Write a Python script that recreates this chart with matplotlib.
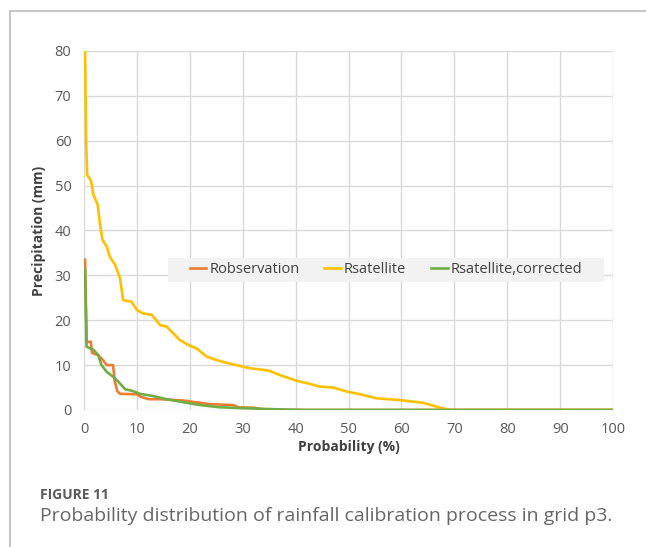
import matplotlib
matplotlib.use('Agg')
import matplotlib.pyplot as plt
from matplotlib.lines import Line2D
from matplotlib.patches import Rectangle

plt.rcParams['font.family'] = ['Open Sans', 'DejaVu Sans']

# exceedance probability (%) vs precipitation (mm)
obs_x = [0.2, 0.5, 1.3, 1.5, 1.8, 2.7, 3.6, 4.3, 5.5, 5.8, 6.3, 6.8, 10.0, 10.6, 12.2, 14.4,
         18.8, 21.9, 23.8, 28.2, 29.2, 32.0, 34.5, 100]
obs_y = [33.5, 15.2, 15.2, 12.8, 12.6, 12.2, 11.1, 10.0, 10.0, 6.5, 4.2, 3.6, 3.5, 3.0, 2.4, 2.4,
         2.1, 1.6, 1.3, 1.1, 0.6, 0.5, 0.0, 0.0]

sat_x = [0.2, 0.4, 0.6, 1.3, 1.8, 2.6, 3.0, 3.5, 4.3, 4.9, 5.9, 6.8, 7.4, 9.0, 10.0, 11.2, 12.8,
         14.4, 15.6, 18.1, 19.7, 21.3, 23.2, 25.1, 27.3, 29.5, 31.4, 34.8, 37.0, 40.2, 42.4,
         44.6, 47.1, 49.7, 52.2, 55.3, 59.7, 64.1, 66.7, 69.2, 100]
sat_y = [81.0, 60.0, 52.3, 51.2, 47.9, 45.7, 41.6, 37.9, 36.4, 34.1, 32.3, 29.4, 24.5, 24.1,
         22.3, 21.5, 21.2, 18.9, 18.6, 15.6, 14.5, 13.7, 11.9, 11.1, 10.4, 9.8, 9.3, 8.8, 7.8,
         6.5, 5.9, 5.2, 5.0, 4.1, 3.5, 2.6, 2.2, 1.6, 0.7, 0.0, 0.0]

cor_x = [0.2, 0.5, 1.8, 2.7, 3.3, 4.3, 5.5, 6.5, 7.8, 9.0, 10.6, 13.1, 15.6, 19.4, 21.9, 25.7,
         30.1, 36.4, 42.0, 100]
cor_y = [31.2, 14.1, 13.4, 12.2, 10.0, 8.5, 7.4, 6.3, 4.6, 4.3, 3.6, 3.1, 2.4, 1.6, 1.1, 0.6,
         0.4, 0.15, 0.0, 0.0]

labels = ['Robservation', 'Rsatellite', 'Rsatellite,corrected']
colors = ['#ED7D31', '#FFC000', '#70AD47']

fig = plt.figure(figsize=(6.46, 5.47), dpi=100)
ax = fig.add_axes([0.130, 0.2505, 0.819, 0.6563])

ax.plot(obs_x, obs_y, color=colors[0], lw=1.9, label=labels[0])
ax.plot(sat_x, sat_y, color=colors[1], lw=1.9, label=labels[1])
ax.plot(cor_x, cor_y, color=colors[2], lw=1.9, label=labels[2])

ax.set_xlim(0, 100)
ax.set_ylim(0, 80)
ax.set_xticks(range(0, 101, 10))
ax.set_yticks(range(0, 81, 10))
ax.grid(True, color='#d9d9d9', lw=1)
ax.set_axisbelow(True)
for s in ax.spines.values():
    s.set_visible(False)
ax.tick_params(length=0, labelsize=10.5, labelcolor='#595959', pad=9)

ax.set_xlabel('Probability (%)', fontsize=10, fontweight='bold', color='#404040', labelpad=2)
ax.set_ylabel('Precipitation (mm)', fontsize=10, fontweight='bold', color='#404040', labelpad=6)

# legend background box (wider padding left/right than top/bottom)
ax.add_patch(Rectangle((0.1588, 0.3565), 0.824, 0.0669, transform=ax.transAxes,
                       facecolor='#f2f2f2', edgecolor='none', zorder=2.5))
leg = ax.legend(loc='center', bbox_to_anchor=(0.571, 0.39), ncol=3, frameon=False,
                fontsize=10.5, handlelength=1.15, handletextpad=0.2, columnspacing=1.7,
                borderpad=0.2, labelcolor='#404040')
leg.set_zorder(3)

# page frame lines
fig.add_artist(Line2D([9.5 / 646, 9.5 / 646], [0, 1 - 11 / 547], color='#bdbdbd', lw=1.2,
                      transform=fig.transFigure))
fig.add_artist(Line2D([9.5 / 646, 1], [1 - 11 / 547, 1 - 11 / 547], color='#bdbdbd', lw=1.2,
                      transform=fig.transFigure))

fig.text(40 / 646, 1 - 495 / 547, 'FIGURE 11', fontsize=10, fontweight='bold', color='#5a5a5a',
         va='center')
fig.text(40 / 646, 1 - 516 / 547,
         'Probability distribution of rainfall calibration process in grid p3.',
         fontsize=14, color='#666666', va='center')

fig.savefig('out.png', dpi=100)
